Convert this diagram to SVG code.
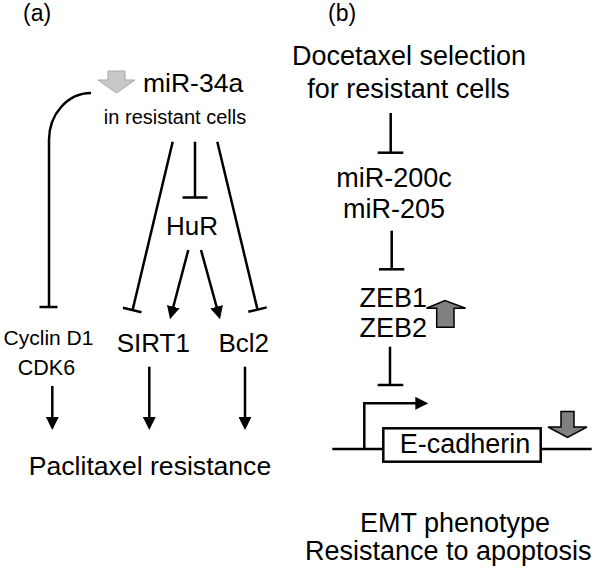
<svg xmlns="http://www.w3.org/2000/svg" width="600" height="573" viewBox="0 0 600 573">
<style>
text{font-family:"Liberation Sans",Arial,sans-serif;fill:#000}
.m{text-anchor:middle}
.ln{stroke:#000;stroke-width:2.5;fill:none}
.ar{stroke:#000;stroke-width:2.5;fill:none;marker-end:url(#ah)}
</style>
<defs>
<marker id="ah" viewBox="0 0 10 10" refX="7" refY="5" markerWidth="13" markerHeight="13" markerUnits="userSpaceOnUse" orient="auto">
<path d="M0,0 L10,5 L0,10 z" fill="#000"/>
</marker>
</defs>
<rect width="600" height="573" fill="#fff"/>
<text x="23" y="21" font-size="23">(a)</text>
<text x="328" y="21" font-size="23">(b)</text>
<g id="connectors">
<path class="ln" d="M91,93 A42 47 0 0 0 49,140 L49,307"/>
<line class="ln" x1="39.5" y1="307" x2="57.5" y2="307"/>
<line class="ln" x1="172.7" y1="141.7" x2="132.6" y2="310"/>
<line class="ln" x1="122.96" y1="307.8" x2="141.44" y2="312.2"/>
<line class="ln" x1="195" y1="141.7" x2="195" y2="197.5"/>
<line class="ln" x1="182.5" y1="197.5" x2="207.5" y2="197.5"/>
<line class="ln" x1="217.3" y1="141.7" x2="257.5" y2="309.6"/>
<line class="ln" x1="248.3" y1="311.8" x2="266.7" y2="307.4"/>
<line class="ar" x1="188.3" y1="250" x2="171" y2="315.5"/>
<line class="ar" x1="201" y1="250" x2="219" y2="315.5"/>
<line class="ar" x1="52.3" y1="386" x2="52.3" y2="426"/>
<line class="ar" x1="149.3" y1="366.7" x2="149.3" y2="426"/>
<line class="ar" x1="245" y1="366.7" x2="245" y2="426"/>
<line class="ln" x1="390.7" y1="113" x2="390.7" y2="152.7"/>
<line class="ln" x1="377.7" y1="152.7" x2="403.3" y2="152.7"/>
<line class="ln" x1="391.7" y1="230.7" x2="391.7" y2="269.3"/>
<line class="ln" x1="379" y1="269.3" x2="404.3" y2="269.3"/>
<line class="ln" x1="390" y1="346.7" x2="390" y2="385"/>
<line class="ln" x1="377.7" y1="385" x2="403.3" y2="385"/>
<path class="ar" d="M364.3,449 L364.3,403.3 L424.4,403.3"/>
<line class="ln" x1="332.3" y1="449" x2="383.3" y2="449"/>
<line class="ln" x1="540.7" y1="449" x2="591.7" y2="449"/>
</g>
<g id="mir34a">
<path d="M108,71 L125,71 L125,80 L135,80 L116.5,93 L98,80 L108,80 z" fill="#c8c8c8" stroke="#a8a8a8" stroke-width="1"/>
<text x="143" y="92" font-size="26.5">miR-34a</text>
<text class="m" x="175" y="124" font-size="20">in resistant cells</text>
</g>
<g id="hur"><text class="m" x="192" y="235" font-size="26">HuR</text></g>
<g id="cyclin"><text class="m" x="48.5" y="345" font-size="21">Cyclin D1</text>
<text class="m" x="46.5" y="375" font-size="21.5">CDK6</text></g>
<g id="sirt1"><text class="m" x="153.3" y="351.7" font-size="26">SIRT1</text></g>
<g id="bcl2"><text class="m" x="243.8" y="351.7" font-size="26">Bcl2</text></g>
<g id="paclitaxel"><text class="m" x="150" y="475" font-size="26.6">Paclitaxel resistance</text></g>
<g id="docetaxel"><text class="m" x="409" y="65" font-size="27">Docetaxel selection</text>
<text class="m" x="408.5" y="98" font-size="27">for resistant cells</text></g>
<g id="mir200"><text class="m" x="394" y="186.7" font-size="27">miR-200c</text>
<text class="m" x="394" y="218.3" font-size="27">miR-205</text></g>
<g id="zeb"><text class="m" x="393.3" y="306.7" font-size="27">ZEB1</text>
<text class="m" x="393.3" y="337.3" font-size="27">ZEB2</text>
<path d="M436.7,327.3 L436.7,308.3 L426.5,308.3 L445,300.5 L465.5,308.3 L454,308.3 L454,327.3 z" fill="#808080" stroke="#000" stroke-width="1.5"/></g>
<g id="ecadherin">
<rect x="383.3" y="428.3" width="157.4" height="33.4" fill="#fff" stroke="#000" stroke-width="2.5"/>
<text class="m" x="465" y="453.3" font-size="27">E-cadherin</text>
<path d="M561,411.5 L574,411.5 L574,427 L587,427 L567.5,437.3 L548,427 L561,427 z" fill="#808080" stroke="#000" stroke-width="1.5"/>
</g>
<g id="emt"><text class="m" x="455" y="531.7" font-size="27">EMT phenotype</text>
<text class="m" x="448.3" y="560" font-size="27">Resistance to apoptosis</text></g>
</svg>
